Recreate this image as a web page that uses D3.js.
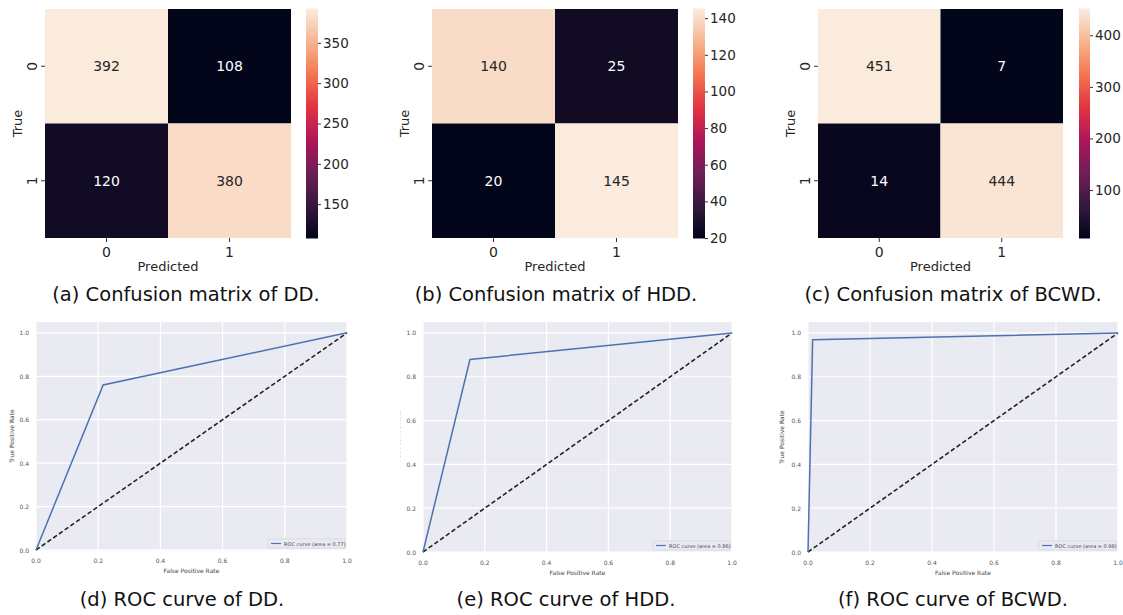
<!DOCTYPE html>
<html><head><meta charset="utf-8">
<script src="https://cdn.jsdelivr.net/npm/d3@7"></script>
<style>body{margin:0;background:#fff}svg{display:block}</style>
</head><body>
<svg id="c" width="1123" height="615"></svg>
<script>
// ---- data ----
const classLabels = ["0", "1"];
const cmDD = [[392, 108], [120, 380]];
const cmHDD = [[140, 25], [20, 145]];
const cmBCWD = [[451, 7], [14, 444]];
const cbTicksDD = [150, 200, 250, 300, 350];
const cbTicksHDD = [20, 40, 60, 80, 100, 120, 140];
const cbTicksBCWD = [100, 200, 300, 400];
const cmCaptions = ["(a) Confusion matrix of DD.", "(b) Confusion matrix of HDD.", "(c) Confusion matrix of BCWD."];

const rocDD = [[0, 0], [0.216, 0.76], [1, 1]];
const rocHDD = [[0, 0], [0.152, 0.879], [1, 1]];
const rocBCWD = [[0, 0], [0.015, 0.969], [1, 1]];
const aucLabels = ["0.77", "0.86", "0.98"];
const rocTicks = [0.0, 0.2, 0.4, 0.6, 0.8, 1.0];
const rocCaptions = ["(d) ROC curve of DD.", "(e) ROC curve of HDD.", "(f) ROC curve of BCWD."];

// rocket colormap stops
const rocketStops = ["#03051a", "#35193e", "#701f57", "#ad1759", "#e13342", "#f37651", "#f6b48f", "#faebdd"];
const rocketPos = [0, 1/7, 2/7, 3/7, 4/7, 5/7, 6/7, 1];
const rocket = d3.scaleLinear().domain(rocketPos).range(rocketStops).interpolate(d3.interpolateRgb);

const svg = d3.select("#c");
const capFont = "'DejaVu Sans', sans-serif";
const capSize = 19.5;

svg.append("defs").append("clipPath").attr("id", "clipE")
  .append("rect").attr("x", 400).attr("y", 310).attr("width", 360).attr("height", 300);

// ---- confusion matrices ----
const cmLayout = [
  {x0: 45, x1: 291, cb: 306, cbw: 12, cap: 186},
  {x0: 432, x1: 678, cb: 693, cbw: 12, cap: 556},
  {x0: 818, x1: 1063, cb: 1079, cbw: 11, cap: 953}
];
const cmData = [cmDD, cmHDD, cmBCWD];
const cbTicks = [cbTicksDD, cbTicksHDD, cbTicksBCWD];
const y0 = 9, y1 = 238;

cmData.forEach((m, k) => {
  const L = cmLayout[k];
  const g = svg.append("g");
  const flat = m.flat();
  const vmin = d3.min(flat), vmax = d3.max(flat);
  const norm = d3.scaleLinear().domain([vmin, vmax]).range([0, 1]);
  const x = d3.scaleBand().domain(classLabels).range([L.x0, L.x1]);
  const y = d3.scaleBand().domain(classLabels).range([y0, y1]);
  const cells = [];
  m.forEach((row, i) => row.forEach((v, j) => cells.push({i, j, v})));
  g.selectAll("rect.cell").data(cells).enter().append("rect")
    .attr("x", d => x(classLabels[d.j])).attr("y", d => y(classLabels[d.i]))
    .attr("width", x.bandwidth()).attr("height", y.bandwidth())
    .attr("fill", d => rocket(norm(d.v)));
  g.selectAll("text.val").data(cells).enter().append("text")
    .attr("x", d => x(classLabels[d.j]) + x.bandwidth() / 2)
    .attr("y", d => y(classLabels[d.i]) + y.bandwidth() / 2)
    .attr("text-anchor", "middle").attr("dominant-baseline", "central")
    .attr("font-family", capFont).attr("font-size", 14)
    .attr("fill", d => norm(d.v) > 0.5 ? "#262626" : "#ffffff")
    .text(d => d.v);
  classLabels.forEach(c => {
    const cx = x(c) + x.bandwidth() / 2;
    g.append("line").attr("x1", cx).attr("x2", cx).attr("y1", y1).attr("y2", y1 + 4).attr("stroke", "#333");
    g.append("text").attr("x", cx).attr("y", y1 + 19).attr("text-anchor", "middle")
      .attr("font-family", capFont).attr("font-size", 14).attr("fill", "#262626").text(c);
    const cy = y(c) + y.bandwidth() / 2;
    g.append("line").attr("x1", L.x0 - 4).attr("x2", L.x0).attr("y1", cy).attr("y2", cy).attr("stroke", "#333");
    g.append("text").attr("transform", `translate(${L.x0 - 8},${cy}) rotate(-90)`)
      .attr("text-anchor", "middle").attr("font-family", capFont).attr("font-size", 14).attr("fill", "#262626").text(c);
  });
  g.append("text").attr("x", (L.x0 + L.x1) / 2).attr("y", y1 + 33).attr("text-anchor", "middle")
    .attr("font-family", capFont).attr("font-size", 13).attr("fill", "#262626").text("Predicted");
  g.append("text").attr("transform", `translate(${L.x0 - 23},${(y0 + y1) / 2}) rotate(-90)`)
    .attr("text-anchor", "middle").attr("font-family", capFont).attr("font-size", 13).attr("fill", "#262626").text("True");
  // colorbar
  const cbScale = d3.scaleLinear().domain([vmin, vmax]).range([y1, y0]);
  const N = 120;
  const steps = d3.range(N).map(i => vmin + (vmax - vmin) * i / N);
  g.selectAll("rect.cb").data(steps).enter().append("rect")
    .attr("x", L.cb).attr("width", L.cbw)
    .attr("y", d => cbScale(d + (vmax - vmin) / N) - 0.5)
    .attr("height", (y1 - y0) / N + 1)
    .attr("fill", d => rocket(norm(d + (vmax - vmin) / (2 * N))));
  const cbAxis = d3.axisRight(cbScale).tickValues(cbTicks[k]).tickSize(3).tickPadding(2);
  const ag = g.append("g").attr("transform", `translate(${L.cb + L.cbw},0)`).call(cbAxis);
  ag.select(".domain").remove();
  ag.selectAll("text").attr("font-family", capFont).attr("font-size", 13.5).attr("fill", "#262626");
  ag.selectAll("line").attr("stroke", "#333");
  svg.append("text").attr("x", L.cap).attr("y", 301).attr("text-anchor", "middle")
    .attr("font-family", capFont).attr("font-size", capSize).attr("fill", "#111").text(cmCaptions[k]);
});

// ---- ROC curves ----
const rocLayout = [
  {x0: 36, x1: 347, yb: 550, cap: 182, ylab: 14},
  {x0: 423, x1: 732, yb: 552, cap: 566, ylab: 400},
  {x0: 808, x1: 1118, yb: 552, cap: 953, ylab: 784}
];
const rocData = [rocDD, rocHDD, rocBCWD];
const rocTop = 322;
rocData.forEach((pts, k) => {
  const L = rocLayout[k];
  const g = svg.append("g");
  const x = d3.scaleLinear().domain([0, 1]).range([L.x0, L.x1]);
  const y = d3.scaleLinear().domain([0, 1.05]).range([L.yb, rocTop]);
  g.append("rect").attr("x", L.x0).attr("y", rocTop).attr("width", L.x1 - L.x0).attr("height", L.yb - rocTop).attr("fill", "#eaeaf2");
  rocTicks.forEach(t => {
    g.append("line").attr("x1", x(t)).attr("x2", x(t)).attr("y1", rocTop).attr("y2", L.yb).attr("stroke", "#fff").attr("stroke-width", 1.2);
    g.append("line").attr("x1", L.x0).attr("x2", L.x1).attr("y1", y(t)).attr("y2", y(t)).attr("stroke", "#fff").attr("stroke-width", 1.2);
    g.append("text").attr("x", x(t)).attr("y", L.yb + 13).attr("text-anchor", "middle")
      .attr("font-family", capFont).attr("font-size", 6).attr("fill", "#555").text(t.toFixed(1));
    g.append("text").attr("x", L.x0 - 7).attr("y", y(t)).attr("text-anchor", "end").attr("dominant-baseline", "central")
      .attr("font-family", capFont).attr("font-size", 6).attr("fill", "#555").text(t.toFixed(1));
  });
  const line = d3.line().x(d => x(d[0])).y(d => y(d[1]));
  g.append("path").datum([[0, 0], [1, 1]]).attr("d", line).attr("fill", "none")
    .attr("stroke", "#222").attr("stroke-width", 1.6).attr("stroke-dasharray", "4.5,2.5");
  g.append("path").datum(pts).attr("d", line).attr("fill", "none")
    .attr("stroke", "#4c72b0").attr("stroke-width", 1.5);
  const lw = 77, lh = 9, lx = L.x1 - lw - 2, ly = L.yb - lh - 2;
  g.append("rect").attr("x", lx).attr("y", ly).attr("width", lw).attr("height", lh).attr("rx", 1.5)
    .attr("fill", "#eaeaf2").attr("stroke", "#d0d0d8").attr("stroke-width", 0.6);
  g.append("line").attr("x1", lx + 3).attr("x2", lx + 13).attr("y1", ly + lh / 2).attr("y2", ly + lh / 2)
    .attr("stroke", "#4c72b0").attr("stroke-width", 1.2);
  g.append("text").attr("x", lx + 16).attr("y", ly + lh / 2).attr("dominant-baseline", "central")
    .attr("font-family", capFont).attr("font-size", 5).attr("fill", "#444")
    .text(`ROC curve (area = ${aucLabels[k]})`);
  g.append("text").attr("x", (L.x0 + L.x1) / 2).attr("y", L.yb + 23).attr("text-anchor", "middle")
    .attr("font-family", capFont).attr("font-size", 6).attr("fill", "#444").text("False Positive Rate");
  const yl = g.append("text").attr("transform", `translate(${L.ylab},${(L.yb + rocTop) / 2}) rotate(-90)`)
    .attr("text-anchor", "middle").attr("font-family", capFont).attr("font-size", 6).attr("fill", "#444").text("True Positive Rate");
  if (k === 1) yl.attr("clip-path", null), g.attr("clip-path", "url(#clipE)");
  svg.append("text").attr("x", L.cap).attr("y", 606).attr("text-anchor", "middle")
    .attr("font-family", capFont).attr("font-size", capSize).attr("fill", "#111").text(rocCaptions[k]);
});
</script>
</body></html>
